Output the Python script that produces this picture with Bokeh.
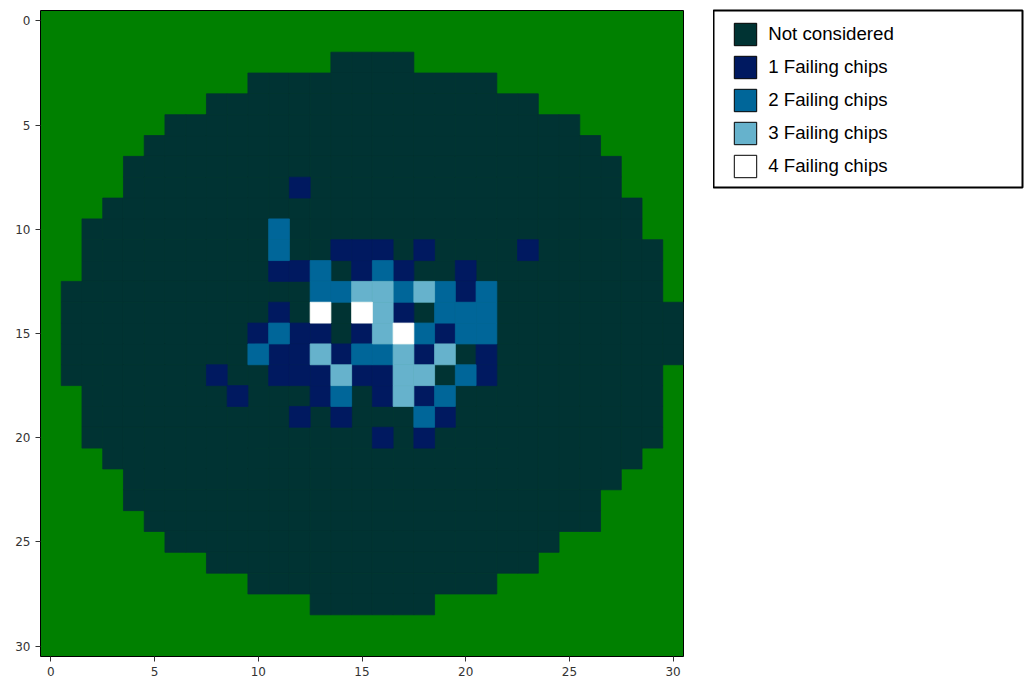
from bokeh.plotting import figure
from bokeh.layouts import row
from bokeh.models import Range1d, FixedTicker, ColumnDataSource, Legend, LegendItem
from bokeh.embed import file_html
from bokeh.resources import INLINE

# ---------------- data ----------------
n_rows = 31
n_cols = 31
tick_values = [0, 5, 10, 15, 20, 25, 30]

# wafer extent per row (first / last die column), None = no die on that row
die_first_col = [None, None, 14, 10, 8, 6, 5, 4, 4, 3, 2, 2, 2, 1, 1, 1,
                 1, 1, 2, 2, 2, 3, 4, 4, 5, 6, 8, 10, 13, None, None]
die_last_col = [None, None, 17, 21, 23, 25, 26, 27, 27, 28, 28, 29, 29, 29, 30, 30,
                30, 29, 29, 29, 29, 28, 27, 26, 26, 24, 23, 21, 18, None, None]

# failing dies (row, column)
fail_1 = [(8, 12), (11, 14), (11, 15), (11, 16), (11, 18), (11, 23),
          (12, 11), (12, 12), (12, 15), (12, 17), (12, 20), (13, 20),
          (14, 11), (14, 17), (15, 10), (15, 12), (15, 13), (15, 15), (15, 19),
          (16, 11), (16, 12), (16, 14), (16, 18), (16, 21),
          (17, 8), (17, 11), (17, 12), (17, 13), (17, 15), (17, 16), (17, 21),
          (18, 9), (18, 13), (18, 16), (18, 18),
          (19, 12), (19, 14), (19, 19), (20, 16), (20, 18)]
fail_2 = [(10, 11), (11, 11), (12, 13), (12, 16),
          (13, 13), (13, 14), (13, 17), (13, 19), (13, 21),
          (14, 19), (14, 20), (14, 21),
          (15, 11), (15, 18), (15, 20), (15, 21),
          (16, 10), (16, 15), (16, 16), (17, 20), (18, 14), (18, 19), (19, 18)]
fail_3 = [(13, 15), (13, 16), (13, 18), (14, 16), (15, 16),
          (16, 13), (16, 17), (16, 19), (17, 14), (17, 17), (17, 18), (18, 17)]
fail_4 = [(14, 13), (14, 15), (15, 17)]

category_labels = ["Not considered", "1 Failing chips", "2 Failing chips",
                   "3 Failing chips", "4 Failing chips"]
category_colors = ["#003333", "#001960", "#006699", "#66b2cc", "#ffffff"]
outside_color = "#008000"

# ---------------- build cells ----------------
fail_lookup = {}
for k, cells in {1: fail_1, 2: fail_2, 3: fail_3, 4: fail_4}.items():
    for rc in cells:
        fail_lookup[rc] = k

cells_by_cat = {k: {"x": [], "y": []} for k in range(5)}
for r in range(n_rows):
    if die_first_col[r] is None:
        continue
    for c in range(die_first_col[r], die_last_col[r] + 1):
        k = fail_lookup.get((r, c), 0)
        cells_by_cat[k]["x"].append(c)
        cells_by_cat[k]["y"].append(r)
sources = [ColumnDataSource(cells_by_cat[k]) for k in range(5)]

# ---------------- wafer map ----------------
p = figure(width=713, height=684,
           x_range=Range1d(-0.5, n_cols - 0.5), y_range=Range1d(n_rows - 0.5, -0.5),
           output_backend="svg", toolbar_location=None,
           min_border_left=40, min_border_right=30, min_border_top=10, min_border_bottom=28,
           background_fill_color=outside_color, border_fill_color="white",
           outline_line_color="black", outline_line_width=1, outline_line_alpha=1)

for k in range(5):
    col = category_colors[k]
    p.rect(x="x", y="y", width=1, height=1, source=sources[k],
           fill_color=col, line_color=col, line_width=0.8)

p.xgrid.visible = False
p.ygrid.visible = False
for ax in (p.xaxis, p.yaxis):
    ax.ticker = FixedTicker(ticks=tick_values)
    ax.minor_tick_line_color = None
    ax.major_tick_in = 0
    ax.major_tick_out = 5
    ax.major_label_standoff = 5
    ax.axis_line_color = None
    ax.major_tick_line_color = "#333333"
    ax.major_label_text_font = "DejaVu Sans"
    ax.major_label_text_font_size = "12px"
    ax.major_label_text_color = "#333333"

# ---------------- legend panel ----------------
lg = figure(width=311, height=215, x_range=Range1d(0, 1), y_range=Range1d(0, 1),
            output_backend="svg", toolbar_location=None,
            x_axis_location=None, y_axis_location=None,
            min_border_left=0, min_border_right=2, min_border_top=10, min_border_bottom=28,
            background_fill_color="white", border_fill_color="white",
            outline_line_color="black", outline_line_width=2, outline_line_alpha=1)
lg.xgrid.visible = False
lg.ygrid.visible = False

items = []
for k in range(5):
    col = category_colors[k]
    proxy = lg.rect(x="x", y="y", width=1, height=1, source=sources[k],
                    fill_color=col, line_color="black", line_width=1, visible=False)
    items.append(LegendItem(label=category_labels[k], renderers=[proxy]))

legend = Legend(items=items, location=(18.2, 7.5),
                border_line_color=None, background_fill_alpha=0,
                padding=0, margin=0, spacing=5,
                glyph_width=28, glyph_height=28, label_height=28,
                label_standoff=9, label_text_font="Liberation Sans",
                label_text_font_size="18.7px", label_text_color="black")
lg.add_layout(legend)

layout = row(p, lg)
open("out.html", "w").write(file_html(layout, INLINE))
